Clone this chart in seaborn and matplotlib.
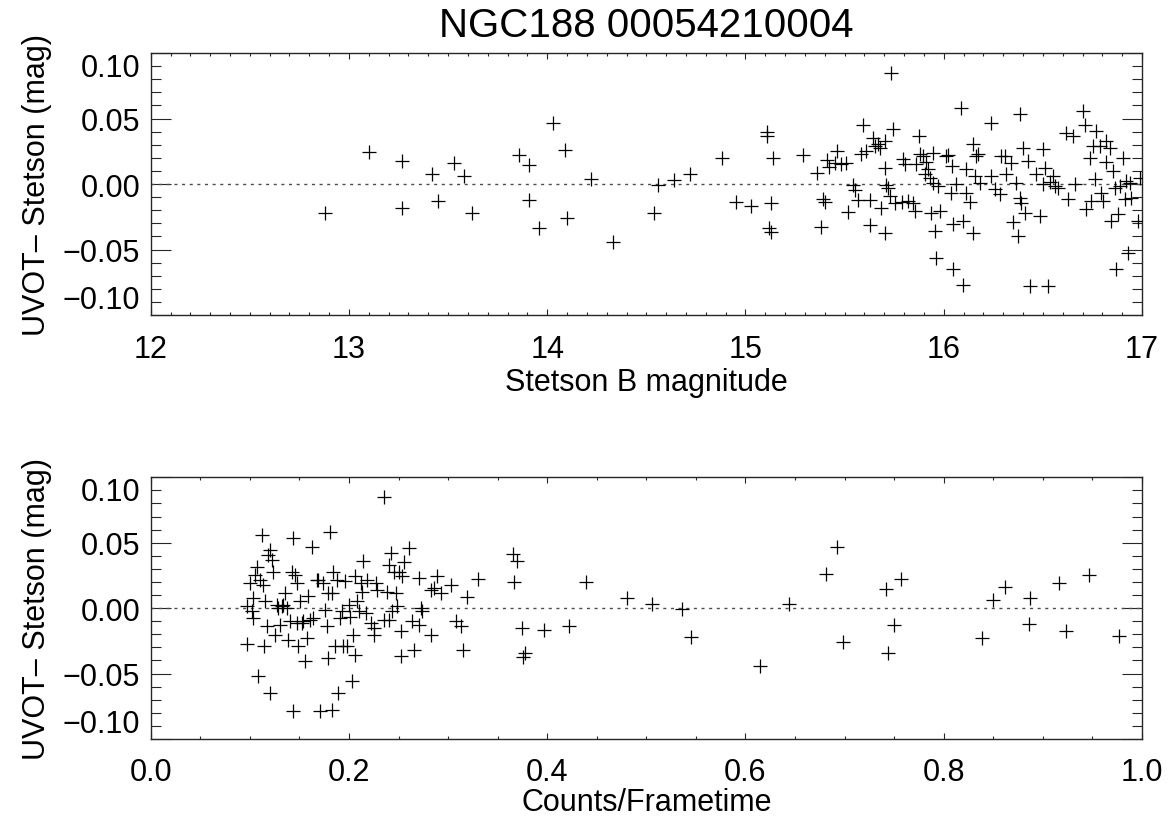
import matplotlib
matplotlib.use('Agg')
import matplotlib.pyplot as plt
from matplotlib.ticker import MultipleLocator
import seaborn as sns
import pandas as pd

# panel 1: Stetson B magnitude vs UVOT - Stetson
b_mag = [12.88, 13.10, 13.27, 13.27, 13.42, 13.45, 13.53, 13.58, 13.62, 13.86,
         13.91, 13.91, 13.96, 14.03, 14.09, 14.10, 14.22, 14.33, 14.54, 14.56,
         14.64, 14.72, 14.88, 14.95, 15.03, 15.11, 15.11, 15.14, 15.13, 15.12,
         15.13, 15.29, 15.36, 15.38, 15.39, 15.40, 15.41, 15.42, 15.46, 15.45,
         15.484, 15.509, 15.518, 15.543, 15.551, 15.568, 15.585, 15.593, 15.610, 15.627,
         15.627, 15.644, 15.652, 15.669, 15.677, 15.686, 15.703, 15.703, 15.703, 15.711,
         15.719, 15.728, 15.736, 15.745, 15.753, 15.787, 15.795, 15.803, 15.820, 15.845,
         15.854, 15.862, 15.876, 15.879, 15.896, 15.904, 15.913, 15.921, 15.929, 15.938,
         15.946, 15.946, 15.955, 15.963, 15.971, 15.980, 16.013, 16.022, 16.039, 16.044,
         16.047, 16.047, 16.064, 16.089, 16.097, 16.097, 16.114, 16.114, 16.131, 16.148,
         16.148, 16.156, 16.165, 16.173, 16.181, 16.240, 16.240, 16.257, 16.282, 16.291,
         16.307, 16.316, 16.341, 16.349, 16.366, 16.375, 16.383, 16.383, 16.391, 16.400,
         16.408, 16.425, 16.433, 16.467, 16.484, 16.501, 16.501, 16.509, 16.526, 16.534,
         16.551, 16.559, 16.576, 16.618, 16.627, 16.652, 16.660, 16.702, 16.711, 16.719,
         16.736, 16.744, 16.753, 16.761, 16.769, 16.786, 16.795, 16.803, 16.820, 16.820,
         16.837, 16.845, 16.853, 16.862, 16.870, 16.879, 16.887, 16.904, 16.912, 16.921,
         16.929, 16.937, 16.946, 16.979, 16.988]
diff_top = [-0.0219, 0.0247, 0.0176, -0.0186, 0.0079, -0.0130, 0.0163, 0.0061, -0.0224, 0.0221,
            0.0145, -0.0122, -0.0338, 0.0468, 0.0257, -0.0262, 0.0036, -0.0440, -0.0224, -0.0010,
            0.0028, 0.0079, 0.0201, -0.0135, -0.0168, 0.0397, 0.0366, 0.0196, -0.0148, -0.0338,
            -0.0366, 0.0221, 0.0081, -0.0326, -0.0112, -0.0135, 0.0181, 0.0130, 0.0252, 0.0158,
            0.0150, 0.0158, -0.0211, -0.0010, -0.0046, -0.0125, 0.0226, 0.0450, 0.0252, -0.0122,
            -0.0313, 0.0349, 0.0290, 0.0308, 0.0277, -0.0181, 0.0328, 0.0125, -0.0372, -0.0008,
            -0.0028, -0.0092, 0.0850, 0.0422, -0.0142, -0.0135, 0.0193, 0.0150, -0.0130, -0.0142,
            -0.0206, 0.0150, 0.0366, 0.0226, 0.0214, 0.0074, 0.0168, 0.0112, 0.0048, -0.0219,
            0.0239, 0.0010, -0.0359, -0.0562, -0.0015, -0.0206, 0.0214, 0.0219, -0.0066, 0.0137,
            -0.0308, -0.0651, -0.0003, 0.0578, -0.0282, -0.0771, -0.0066, 0.0112, -0.0137, 0.0303,
            -0.0377, 0.0061, 0.0214, 0.0226, 0.0010, 0.0468, 0.0061, -0.0041, -0.0079, 0.0214,
            0.0214, 0.0074, 0.0163, -0.0290, 0.0005, -0.0397, 0.0532, -0.0104, -0.0142, 0.0277,
            -0.0224, 0.0176, -0.0779, 0.0074, -0.0244, 0.0265, -0.0003, 0.0125, -0.0779, 0.0018,
            0.0061, -0.0015, -0.0028, 0.0392, -0.0117, 0.0366, -0.0003, 0.0557, 0.0448, -0.0193,
            0.0201, -0.0130, 0.0290, 0.0036, 0.0405, 0.0290, -0.0066, -0.0130, 0.0328, 0.0168,
            0.0277, -0.0282, 0.0099, -0.0028, -0.0651, -0.0232, -0.0015, 0.0201, -0.0117, 0.0023,
            -0.0524, 0.0010, -0.0104, -0.0282, 0.0048]

# panel 2: count rate vs UVOT - Stetson
rate = [0.0968, 0.0968, 0.1002, 0.1019, 0.1029, 0.1036, 0.1052, 0.1069, 0.1086, 0.1103,
        0.1120, 0.1137, 0.1143, 0.1153, 0.1170, 0.1187, 0.1204, 0.1204, 0.1221, 0.1237,
        0.1254, 0.1271, 0.1288, 0.1305, 0.1321, 0.1338, 0.1355, 0.1372, 0.1389, 0.1405,
        0.1422, 0.1439, 0.1439, 0.1456, 0.1473, 0.1479, 0.1490, 0.1506, 0.1523, 0.1540,
        0.1557, 0.1574, 0.1590, 0.1607, 0.1624, 0.1641, 0.1674, 0.1691, 0.1708, 0.1742,
        0.1759, 0.1775, 0.1792, 0.1792, 0.1809, 0.1826, 0.1826, 0.1843, 0.1859, 0.1876,
        0.1893, 0.1910, 0.1927, 0.1944, 0.1960, 0.1977, 0.2000, 0.2011, 0.2028, 0.2044,
        0.2061, 0.2061, 0.2078, 0.2101, 0.2118, 0.2134, 0.2145, 0.2168, 0.2185, 0.2218,
        0.2252, 0.2252, 0.2269, 0.2286, 0.2353, 0.2353, 0.2387, 0.2403, 0.2403, 0.2420,
        0.2437, 0.2454, 0.2471, 0.2487, 0.2504, 0.2521, 0.2521, 0.2538, 0.2555, 0.2605,
        0.2639, 0.2655, 0.2706, 0.2706, 0.2723, 0.2739, 0.2824, 0.2824, 0.2857, 0.2891,
        0.2924, 0.3025, 0.3076, 0.3126, 0.3153, 0.3187, 0.3301, 0.365, 0.370, 0.366,
        0.375, 0.376, 0.378, 0.397, 0.422, 0.439, 0.480, 0.506, 0.536, 0.545,
        0.6145, 0.6437, 0.6817, 0.6925, 0.6985, 0.742, 0.7436, 0.750, 0.757, 0.8387,
        0.8495, 0.8613, 0.8858, 0.8875, 0.916, 0.923, 0.9463, 0.9766]
diff_bot = [0.0013, -0.0275, 0.0191, -0.0025, 0.0076, -0.0076, 0.0254, 0.0318, -0.0522, 0.0216,
            0.0560, 0.0178, -0.0293, 0.0051, -0.0140, 0.0407, 0.0445, -0.0649, 0.0369, 0.0280,
            -0.0204, 0.0025, 0.0000, -0.0127, 0.0013, 0.0025, 0.0115, 0.0000, -0.0242, -0.0102,
            0.0280, 0.0539, -0.0789, 0.0254, -0.0115, 0.0191, -0.0293, 0.0051, -0.0115, -0.0102,
            -0.0407, -0.0229, 0.0089, -0.0089, 0.0471, -0.0076, 0.0216, 0.0216, -0.0789, 0.0191,
            -0.0013, -0.0140, -0.0382, 0.0115, 0.0585, 0.0115, -0.0776, 0.0280, -0.0293, 0.0216,
            -0.0649, -0.0076, -0.0025, -0.0293, 0.0204, -0.0293, 0.0025, -0.0064, -0.0560, -0.0204,
            0.0242, -0.0356, 0.0051, -0.0025, 0.0191, 0.0127, 0.0361, -0.0038, 0.0216, -0.0115,
            -0.0153, -0.0209, 0.0191, 0.0140, 0.0852, -0.0089, 0.0127, -0.0089, 0.0331, 0.0420,
            -0.0025, 0.0280, 0.0115, 0.0013, 0.0280, -0.0178, -0.0369, 0.0242, 0.0356, 0.0458,
            -0.0102, -0.0318, 0.0229, -0.0127, 0.0000, -0.0025, -0.0204, 0.0140, 0.0153, 0.0242,
            0.0115, 0.0178, -0.0102, -0.0140, -0.0323, 0.0084, 0.0221, 0.041, 0.036, 0.0196,
            -0.015, -0.037, -0.034, -0.017, -0.0135, 0.0196, 0.0076, 0.003, -0.0008, -0.0224,
            -0.0445, 0.0033, 0.026, 0.047, -0.026, 0.0145, -0.0344, -0.0127, 0.0221, -0.0229,
            0.0064, 0.016, -0.0122, 0.0081, 0.019, -0.0173, 0.0254, -0.0216]

title = 'NGC188 00054210004'
y_label = 'UVOT\u2013 Stetson (mag)'
y_ticks = [-0.10, -0.05, 0.00, 0.05, 0.10]

df_top = pd.DataFrame({'x': b_mag, 'y': diff_top})
df_bot = pd.DataFrame({'x': rate, 'y': diff_bot})

sns.set_style('ticks')
plt.rcParams['font.family'] = ['Liberation Sans', 'DejaVu Sans']
plt.rcParams['text.color'] = 'black'
plt.rcParams['axes.labelcolor'] = 'black'
plt.rcParams['xtick.color'] = 'black'
plt.rcParams['ytick.color'] = 'black'

fig = plt.figure(figsize=(11.69, 8.2), dpi=100)
ax1 = fig.add_axes([0.1289, 0.6146, 0.848, 0.3195])
ax2 = fig.add_axes([0.1289, 0.0976, 0.848, 0.3191])

fs = 22
panels = [
    (ax1, df_top, (12, 17), 1, 0.1, '{:.0f}', 'Stetson B magnitude', 13.5, 2),
    (ax2, df_bot, (0, 1), 0.2, 0.05, '{:.1f}', 'Counts/Frametime', 13, 0),
]
for ax, df, xlim, xmaj, xmin, xfmt, xlab, xpad, lpad in panels:
    ax.axhline(0, color='0.3', lw=1.0, ls=(0, (2.2, 3.3)), zorder=1)
    sns.scatterplot(data=df, x='x', y='y', ax=ax, marker='+', color='black',
                    s=115, linewidth=0.9, zorder=3)
    ax.set_xlim(*xlim)
    ax.set_ylim(-0.10, 0.10)
    ax.xaxis.set_minor_locator(MultipleLocator(xmin))
    ax.yaxis.set_minor_locator(MultipleLocator(0.01))
    xt = [xlim[0] + i * xmaj for i in range(int(round((xlim[1] - xlim[0]) / xmaj)) + 1)]
    ax.set_xticks(xt, labels=[xfmt.format(v) for v in xt])
    ax.set_yticks(y_ticks, labels=['{:.2f}'.format(v).replace('-', '\u2212') for v in y_ticks])
    ax.tick_params(which='both', direction='in', top=True, right=True,
                   labelsize=fs, color='0.15', width=0.8)
    ax.tick_params(axis='y', which='major', length=14.3, pad=7.5)
    ax.tick_params(axis='y', which='minor', length=7.1)
    ax.tick_params(axis='x', which='major', length=4, pad=xpad)
    ax.tick_params(axis='x', which='minor', length=2.5)
    for sp in ax.spines.values():
        sp.set_color('0.15')
        sp.set_linewidth(1.0)
    ax.set_xlabel(xlab, fontsize=fs, labelpad=lpad)
    ax.set_ylabel(y_label, fontsize=fs, labelpad=8)
    ylabs = ax.get_yticklabels()
    ylabs[0].set_va('bottom')
    ylabs[-1].set_va('top')

fig.text(0.5526, 0.9549, title, ha='center', va='baseline', fontsize=29)

fig.savefig('out.png', dpi=100)
